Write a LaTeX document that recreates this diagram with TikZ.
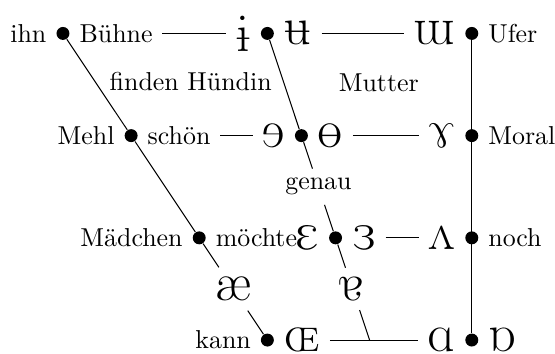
\documentclass[tikz,border=0pt]{standalone}
\usepackage{tipa}
\usetikzlibrary{positioning}

\tikzset{
  dot/.style={circle, fill, inner sep=0pt, minimum size=5pt},
  word/.style={inner sep=3.5pt},
  ipa/.style={font=\huge, inner xsep=3.5pt, inner ysep=0.5pt},
  onln/.style={inner ysep=3.5pt}
}

\begin{document}
\begin{tikzpicture}[x=1.387cm, y=1.387cm, node distance=0pt]
			\useasboundingbox (-0.616,-0.127) rectangle (4.814,3.327);
			
			\node[dot] (fc) at (0,3) {};
			\node[dot] (nc) at (2,3) {};
			\node[dot] (bc) at (4,3) {};
			\node[word, left=of fc] (ihn) {ihn};
			\node[word, right=of fc] (buehne) {Bühne};
			\node[ipa, left=of nc] (ibar) {\textbari};
			\node[ipa, right=of nc] (ubar) {\textbaru};
			\node[ipa, left=of bc] (turnm) {\textturnm};
			\node[word, right=of bc] (ufer) {Ufer};
			
			\node[dot] (fcm) at (0.667,2) {};
			\node[dot] (ncm) at (2.333,2) {};
			\node[dot] (bcm) at (4,2) {};
			\node[word, left=of fcm] (mehl) {Mehl};
			\node[word, right=of fcm] (schoen) {schön};
			\node[ipa, left=of ncm] (reve) {\textreve};
			\node[ipa, right=of ncm] (baro) {\textbaro};
			\node[ipa, left=of bcm] (rams) {\textramshorns};
			\node[word, right=of bcm] (moral) {Moral};
			
			\node[dot] (fom) at (1.333,1) {};
			\node[dot] (nom) at (2.667,1) {};
			\node[dot] (bom) at (4,1) {};
			\node[word, left=of fom] (maed) {Mädchen};
			\node[word, right=of fom] (moechte) {möchte};
			\node[ipa, left=of nom] (eps) {\textepsilon};
			\node[ipa, right=of nom] (reveps) {\textrevepsilon};
			\node[ipa, left=of bom] (turnv) {\textturnv};
			\node[word, right=of bom] (noch) {noch};
			
			\node[dot] (fo) at (2,0) {};
			\node[dot] (bo) at (4,0) {};
			\node[word, left=of fo] (kann) {kann};
			\node[ipa, right=of fo] (oe) {\textscoelig};
			\node[ipa, left=of bo] (scra) {\textscripta};
			\node[ipa, right=of bo] (tscra) {\textturnscripta};
			
			\node[word] (fh) at (1.25,2.53) {finden Hündin};
			\node[word] (mutter) at (3.09,2.52) {Mutter};
			\node[word] (genau) at (2.5,1.5) {genau};
			\node[ipa, onln] (ae) at (1.667,0.5) {\ae};
			\node[ipa, onln] (turna) at (2.833,0.5) {\textturna};
			\coordinate (no) at (3,0);
			
			\draw (fc) -- (fcm) -- (fom) -- (ae) -- (fo);
			\draw (nc) -- (ncm) -- (genau) -- (nom) -- (turna) -- (no);
			\draw (bc) -- (bo);
			\draw (buehne) -- (ibar);
			\draw (ubar) -- (turnm);
			\draw (schoen) -- (reve);
			\draw (baro) -- (rams);
			\draw (reveps) -- (turnv);
			\draw (oe) -- (scra);
			
			\end{tikzpicture}
\end{document}
